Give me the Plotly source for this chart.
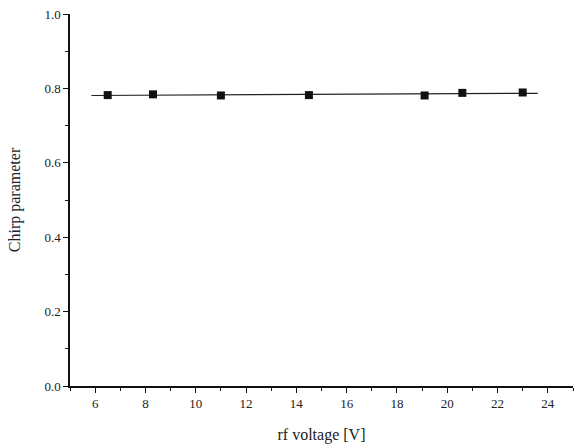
import numpy as np
import plotly.graph_objects as go

# measured chirp parameter vs. rf drive voltage
rf_voltage = [6.5, 8.3, 11.0, 14.5, 19.1, 20.6, 23.0]
chirp = [0.782, 0.784, 0.781, 0.782, 0.781, 0.788, 0.789]

# linear fit drawn across the measured span
slope, intercept = np.polyfit(rf_voltage, chirp, 1)
fit_x = np.array([5.85, 23.6])
fit_y = slope * fit_x + intercept

font_family = "Liberation Serif, Times New Roman, serif"

fig = go.Figure()
fig.add_trace(go.Scatter(
    x=fit_x, y=fit_y, mode="lines",
    line=dict(color="#222222", width=1.2),
    showlegend=False, hoverinfo="skip",
))
fig.add_trace(go.Scatter(
    x=rf_voltage, y=chirp, mode="markers",
    marker=dict(symbol="square", size=8, color="#111111"),
    showlegend=False,
))

axis_common = dict(
    showgrid=False, zeroline=False,
    showline=True, linecolor="#111111", linewidth=1.5,
    ticks="outside", ticklen=5, tickwidth=1.2, tickcolor="#111111",
    tickfont=dict(family=font_family, size=13, color="#222222"),
)

fig.update_layout(
    width=577, height=448,
    margin=dict(l=70, r=4, t=14, b=62),
    paper_bgcolor="white", plot_bgcolor="white",
    xaxis=dict(
        range=[5, 25], tickvals=[6, 8, 10, 12, 14, 16, 18, 20, 22, 24],
        minor=dict(dtick=1, tick0=5, ticks="outside", ticklen=3, tickcolor="#111111", tickwidth=1),
        title=dict(text="rf voltage [V]", font=dict(family=font_family, size=16, color="#222222"), standoff=18),
        **axis_common,
    ),
    yaxis=dict(
        range=[0, 1.0], tickvals=[0.0, 0.2, 0.4, 0.6, 0.8, 1.0], tickformat=".1f",
        minor=dict(dtick=0.1, ticks="outside", ticklen=3, tickcolor="#111111", tickwidth=1),
        title=dict(text="Chirp parameter", font=dict(family=font_family, size=16, color="#222222"), standoff=20),
        **axis_common,
    ),
)

fig.write_html("out.html")
